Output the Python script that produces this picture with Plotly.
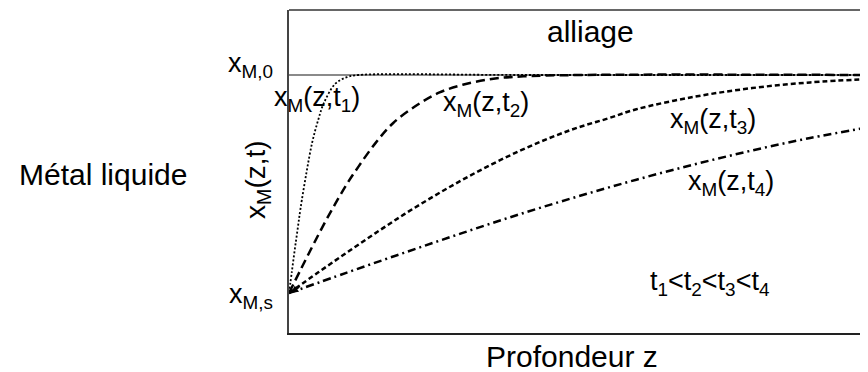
import plotly.graph_objects as go

# profondeur z (unités arbitraires, 0..100) et fraction x_M normalisée (0 = x_M,s ; 1 = x_M,0)
z_t1 = [0, 0.5, 1, 1.5, 2, 3, 4, 5, 6, 8, 10, 12, 40, 100]
x_t1 = [0, 0.10, 0.20, 0.295, 0.39, 0.55, 0.69, 0.79, 0.87, 0.96, 0.99, 1.0, 1.0, 1.0]

z_t2 = [0, 2, 4, 6, 8, 10, 12, 15, 18, 22, 26, 30, 35, 40, 50, 100]
x_t2 = [0, 0.107, 0.212, 0.314, 0.41, 0.50, 0.58, 0.69, 0.78, 0.86, 0.92, 0.955, 0.982, 0.993, 1.0, 1.0]

z_t3 = [0, 5, 10, 15, 20, 25, 30, 35, 40, 45, 50, 55, 60, 70, 80, 90, 100]
x_t3 = [0, 0.094, 0.186, 0.276, 0.363, 0.444, 0.52, 0.59, 0.654, 0.711, 0.76, 0.80, 0.843, 0.90, 0.94, 0.966, 0.981]

z_t4 = [0, 10, 20, 30, 40, 50, 60, 70, 80, 90, 100]
x_t4 = [0, 0.094, 0.186, 0.276, 0.363, 0.444, 0.52, 0.59, 0.654, 0.711, 0.76]

x_M0 = 1.0
x_Ms = 0.0

FONT = "Liberation Sans, Arial, sans-serif"

fig = go.Figure()

# niveau x_M,0
fig.add_trace(go.Scatter(x=[0, 100], y=[x_M0, x_M0], mode="lines",
                         line=dict(color="#8a8a8a", width=2), showlegend=False))

styles = [
    (z_t1, x_t1, "2px,2px", 1.8),
    (z_t2, x_t2, "9px,5px", 2.5),
    (z_t3, x_t3, "5px,3px", 2.5),
    (z_t4, x_t4, "8px,4px,2px,4px", 2.5),
]
for zz, xx, dash, w in styles:
    fig.add_trace(go.Scatter(x=zz, y=xx, mode="lines",
                             line=dict(color="black", width=w, dash=dash, shape="spline"),
                             showlegend=False))


def label(text, x, y, size=27, ref="data", xanchor="center", **kw):
    refs = dict(xref="paper", yref="paper") if ref == "paper" else {}
    fig.add_annotation(x=x, y=y, text=text, showarrow=False, xanchor=xanchor, yanchor="middle",
                       font=dict(family=FONT, size=size, color="black"), **refs, **kw)


label("alliage", 52.0, 1.20, size=30)
label("x<sub>M</sub>(z,t<sub>1</sub>)", 4.8, 0.89)
label("x<sub>M</sub>(z,t<sub>2</sub>)", 34.1, 0.865)
label("x<sub>M</sub>(z,t<sub>3</sub>)", 73.3, 0.79)
label("x<sub>M</sub>(z,t<sub>4</sub>)", 76.4, 0.505)
label("t<sub>1</sub>&lt;t<sub>2</sub>&lt;t<sub>3</sub>&lt;t<sub>4</sub>", 72.7, 0.045)

# textes hors du cadre (coordonnées papier)
label("x<sub>M,0</sub>", -0.024, 0.83, ref="paper", xanchor="right")
label("x<sub>M,s</sub>", -0.024, 0.115, ref="paper", xanchor="right")
label("x<sub>M</sub>(z,t)", -0.0535, 0.474, size=28, ref="paper", textangle=-90)
label("Métal liquide", -0.321, 0.492, size=30, ref="paper")
label("Profondeur z", 0.489, -0.074, size=30, ref="paper")

# petite flèche à l'origine
fig.add_annotation(x=0.3, y=x_Ms, ax=10, ay=-7, text="", showarrow=True,
                   arrowhead=2, arrowsize=1, arrowwidth=1.5, arrowcolor="black")

# bord supérieur
fig.add_shape(type="line", xref="paper", yref="paper", x0=0, x1=1, y0=1, y1=1,
              line=dict(color="#666666", width=2))

fig.update_xaxes(range=[0, 100], showgrid=False, zeroline=False, showticklabels=False,
                 ticks="", showline=True, linecolor="#222222", linewidth=2)
fig.update_yaxes(range=[-0.183, 1.298], showgrid=False, zeroline=False, showticklabels=False,
                 ticks="", showline=True, linecolor="#444444", linewidth=2)

# la page ajoute 8 px de marge : figure de 860x364 placée en (8, 8)
fig.update_layout(
    width=860, height=364,
    margin=dict(l=281, r=0, t=2, b=39),
    plot_bgcolor="white", paper_bgcolor="white",
    showlegend=False,
)

fig.write_html("out.html")
